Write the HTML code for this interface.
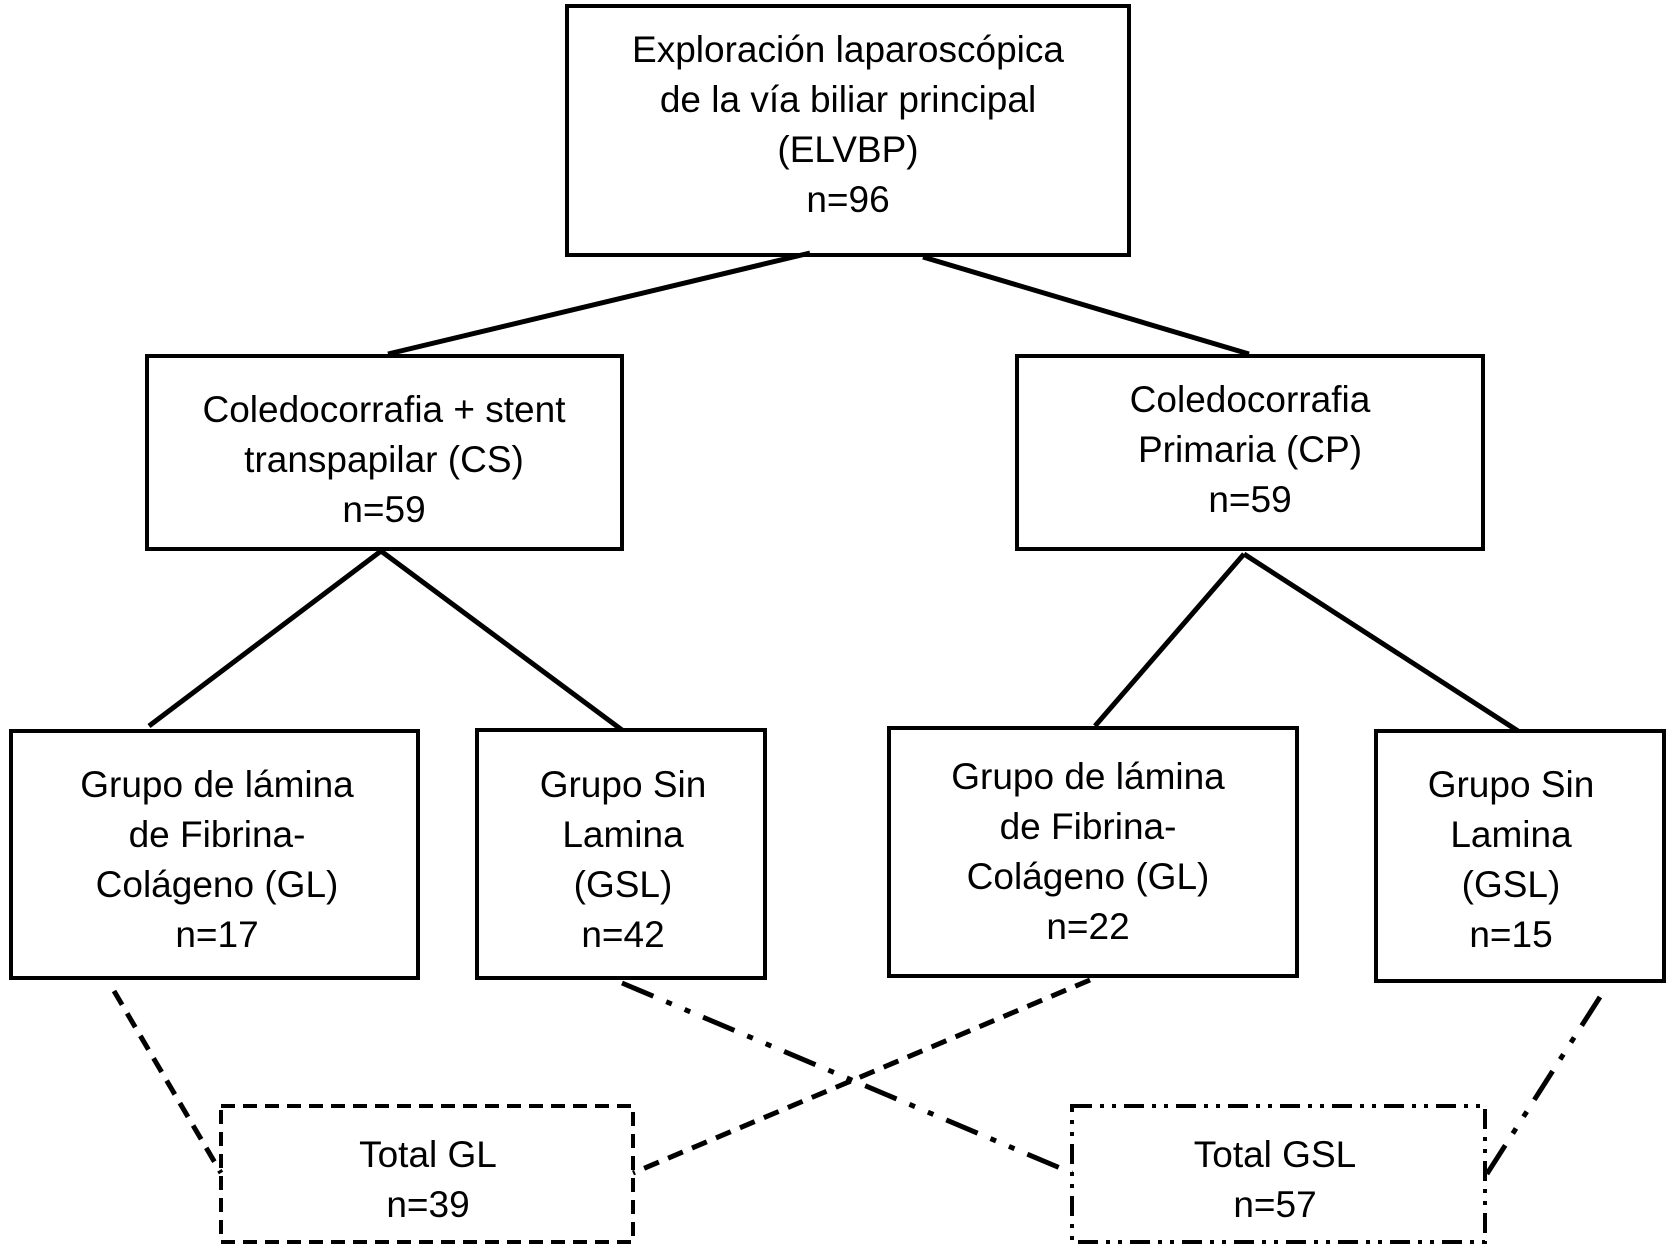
<!DOCTYPE html>
<html><head><meta charset="utf-8"><style>
html,body{margin:0;padding:0;background:#fff;}
svg{display:block;}
text{font-family:"Liberation Sans",Arial,sans-serif;font-size:37px;fill:#000;text-anchor:middle;}
</style></head><body>
<svg width="1667" height="1250" viewBox="0 0 1667 1250" xmlns="http://www.w3.org/2000/svg">
<g fill="none" stroke="#000" stroke-width="4">
<rect x="567" y="6" width="562" height="249"/>
<rect x="147" y="356" width="475" height="193"/>
<rect x="1017" y="356" width="466" height="193"/>
<rect x="11" y="731" width="407" height="247"/>
<rect x="477" y="730" width="288" height="248"/>
<rect x="889" y="728" width="408" height="248"/>
<rect x="1376" y="731" width="288" height="250"/>
</g>
<g stroke="#000" stroke-width="5" fill="none">
<line x1="810" y1="253" x2="388" y2="354"/>
<line x1="923" y1="257" x2="1249" y2="354"/>
<line x1="381" y1="551" x2="149" y2="726"/>
<line x1="381" y1="551" x2="622" y2="730"/>
<line x1="1244" y1="554" x2="1095" y2="726"/>
<line x1="1244" y1="554" x2="1518" y2="731"/>
</g>
<g stroke="#000" stroke-width="4" fill="none">
<rect x="221" y="1106" width="412" height="136" stroke-dasharray="14 8"/>
<rect x="1072" y="1106" width="413" height="136" stroke-dasharray="20 8 4 8 4 8"/>
</g>
<g stroke="#000" stroke-width="5" fill="none">
<line x1="114" y1="991" x2="221" y2="1173" stroke-dasharray="16 10"/>
<line x1="1090" y1="980" x2="633" y2="1173" stroke-dasharray="16 10"/>
<line x1="622" y1="983" x2="1072" y2="1173" stroke-dasharray="34 14 6 14 6 14"/>
<line x1="1600" y1="997" x2="1485" y2="1177" stroke-dasharray="34 14 6 14 6 14"/>
</g>
<text x="848" y="62">Exploración laparoscópica</text>
<text x="848" y="112">de la vía biliar principal</text>
<text x="848" y="162">(ELVBP)</text>
<text x="848" y="212">n=96</text>
<text x="384" y="422">Coledocorrafia + stent</text>
<text x="384" y="472">transpapilar (CS)</text>
<text x="384" y="522">n=59</text>
<text x="1250" y="412">Coledocorrafia</text>
<text x="1250" y="462">Primaria (CP)</text>
<text x="1250" y="512">n=59</text>
<text x="217" y="797">Grupo de lámina</text>
<text x="217" y="847">de Fibrina-</text>
<text x="217" y="897">Colágeno (GL)</text>
<text x="217" y="947">n=17</text>
<text x="623" y="797">Grupo Sin</text>
<text x="623" y="847">Lamina</text>
<text x="623" y="897">(GSL)</text>
<text x="623" y="947">n=42</text>
<text x="1088" y="789">Grupo de lámina</text>
<text x="1088" y="839">de Fibrina-</text>
<text x="1088" y="889">Colágeno (GL)</text>
<text x="1088" y="939">n=22</text>
<text x="1511" y="797">Grupo Sin</text>
<text x="1511" y="847">Lamina</text>
<text x="1511" y="897">(GSL)</text>
<text x="1511" y="947">n=15</text>
<text x="428" y="1167">Total GL</text>
<text x="428" y="1217">n=39</text>
<text x="1275" y="1167">Total GSL</text>
<text x="1275" y="1217">n=57</text>
</svg>
</body></html>
